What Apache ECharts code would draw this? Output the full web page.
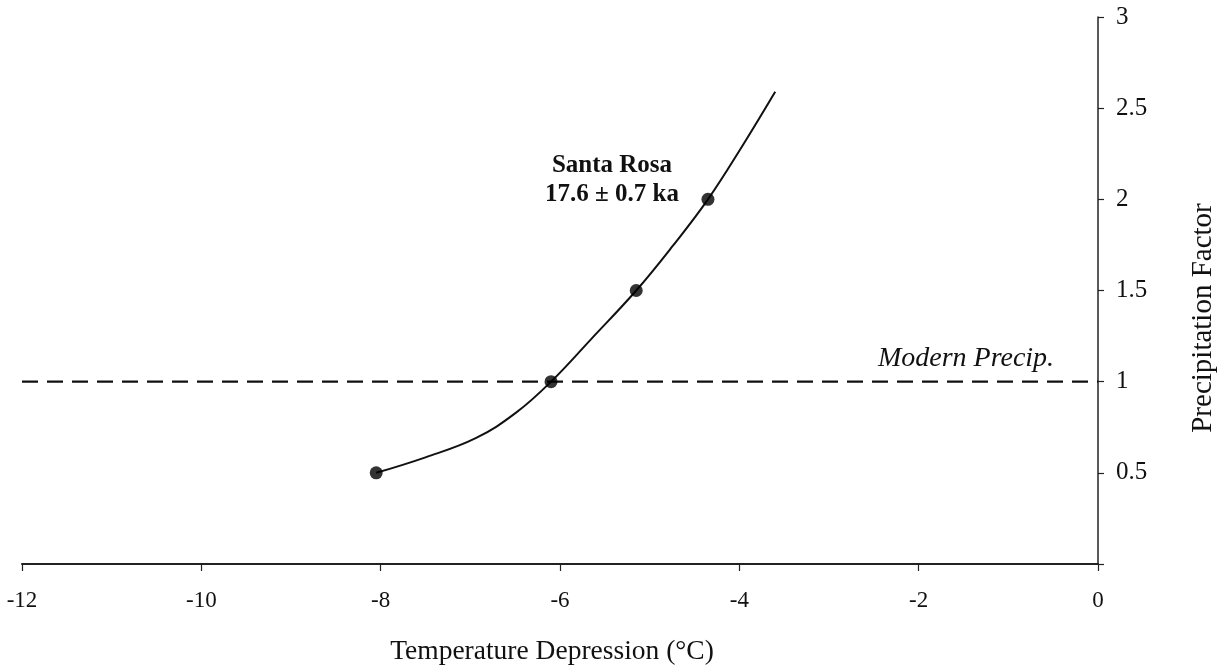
<!DOCTYPE html>
<html><head><meta charset="utf-8">
<script src="https://cdn.jsdelivr.net/npm/echarts@6/dist/echarts.min.js"></script>
<style>html,body{margin:0;padding:0;background:#fff}#c{width:1225px;height:668px}</style>
</head><body><div id="c"></div>
<script>
// Measured points (temperature depression, precipitation factor)
const pointX = [-8.05, -6.1, -5.15, -4.35];
const pointY = [0.5, 1.0, 1.5, 2.0];
// Fitted curve
const curveX = [-8.05, -7.5, -6.94, -6.49, -6.1, -5.65, -5.15, -4.75, -4.35, -3.97, -3.6];
const curveY = [0.5, 0.585, 0.69, 0.83, 1.0, 1.235, 1.5, 1.74, 2.0, 2.29, 2.59];
// Modern precipitation reference line
const modernX = [-12, 0];
const modernY = [1, 1];
const xTicks = [-12, -10, -8, -6, -4, -2, 0];
const yTicks = [0.5, 1, 1.5, 2, 2.5, 3];

const font = 'Liberation Serif';
const chart = echarts.init(document.getElementById('c'));
chart.setOption({
  animation: false,
  backgroundColor: '#fff',
  grid: {left: 22, right: 127, top: 17, bottom: 104},
  xAxis: {
    type: 'value', min: -12, max: 0, interval: 2,
    axisLine: {onZero: false, lineStyle: {color: '#222', width: 2}},
    axisTick: {length: 7, lineStyle: {color: '#222', width: 1.2}},
    axisLabel: {fontFamily: font, fontSize: 23, color: '#111', margin: 25,
      formatter: v => (xTicks.indexOf(v) >= 0 ? String(v) : '')},
    splitLine: {show: false}
  },
  yAxis: {
    type: 'value', position: 'right', min: 0, max: 3, interval: 0.5,
    axisLine: {show: true, onZero: false, lineStyle: {color: '#222', width: 1.5}},
    axisTick: {show: true, length: 6, lineStyle: {color: '#222', width: 1.2}},
    axisLabel: {fontFamily: font, fontSize: 25, color: '#111', margin: 18,
      formatter: v => (yTicks.indexOf(v) >= 0 ? String(v) : '')},
    splitLine: {show: false}
  },
  series: [
    {
      type: 'line', data: modernX.map((x, i) => [x, modernY[i]]),
      showSymbol: false, lineStyle: {color: '#111', width: 2.2, type: [16, 9]}, z: 1
    },
    {
      type: 'line', data: curveX.map((x, i) => [x, curveY[i]]),
      smooth: 0.4, showSymbol: false,
      lineStyle: {color: '#111', width: 2}, z: 2
    },
    {
      type: 'scatter', data: pointX.map((x, i) => [x, pointY[i]]),
      symbol: 'circle', symbolSize: 13, itemStyle: {color: '#000'}, z: 3
    }
  ],
  graphic: [
    {type: 'text', x: 612, y: 166, style: {text: 'Santa Rosa', font: 'bold 25px "Liberation Serif"', fill: '#111', textAlign: 'center', textVerticalAlign: 'middle'}},
    {type: 'text', x: 612, y: 195, style: {text: '17.6 ± 0.7 ka', font: 'bold 25px "Liberation Serif"', fill: '#111', textAlign: 'center', textVerticalAlign: 'middle'}},
    {type: 'text', x: 966, y: 359, style: {text: 'Modern Precip.', font: 'italic 28px "Liberation Serif"', fill: '#111', textAlign: 'center', textVerticalAlign: 'middle'}},
    {type: 'text', x: 552, y: 652, style: {text: 'Temperature Depression (°C)', font: '27.5px "Liberation Serif"', fill: '#111', textAlign: 'center', textVerticalAlign: 'middle'}},
    {type: 'text', x: 1203, y: 318, rotation: Math.PI / 2, style: {text: 'Precipitation Factor', font: '29px "Liberation Serif"', fill: '#111', textAlign: 'center', textVerticalAlign: 'middle'}}
  ]
});
</script></body></html>
